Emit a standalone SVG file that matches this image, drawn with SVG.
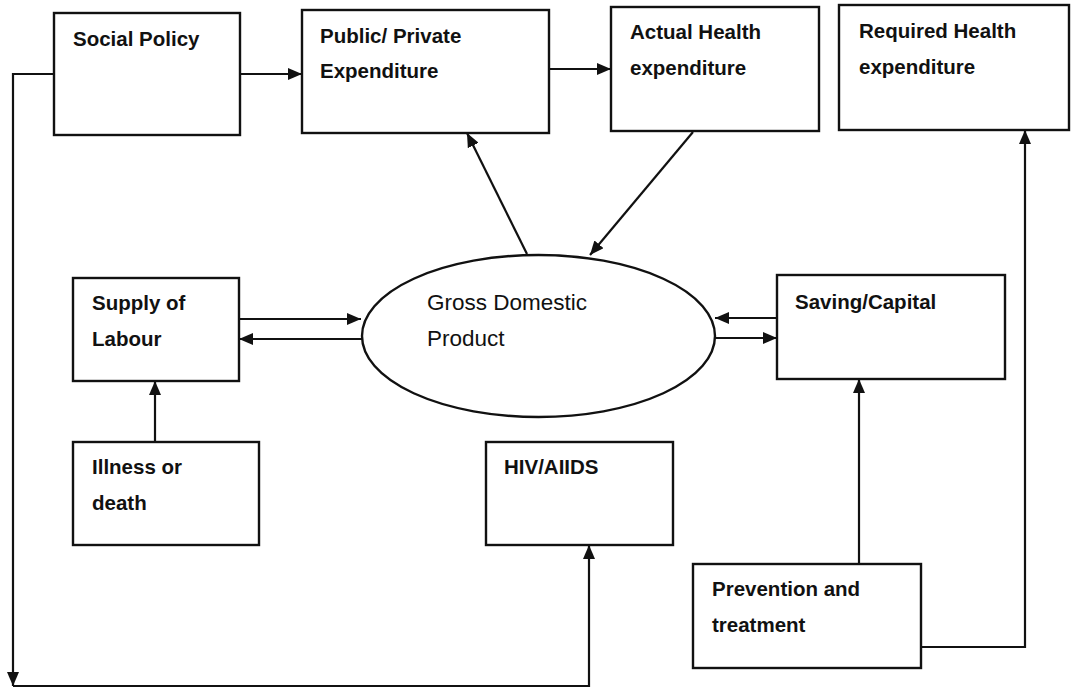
<svg xmlns="http://www.w3.org/2000/svg" width="1072" height="688" viewBox="0 0 1072 688">
<style>
.box{fill:#fff;stroke:#111;stroke-width:2.4}
.lbl{font-family:"Liberation Sans",Arial,sans-serif;font-size:20.5px;font-weight:bold;fill:#111}
.lblr{font-family:"Liberation Sans",Arial,sans-serif;font-size:22.5px;fill:#111}
.con{fill:none;stroke:#111;stroke-width:2.2}
</style>
<defs>
<marker id="ah" viewBox="0 0 14 12" refX="14" refY="6" markerWidth="14" markerHeight="12" markerUnits="userSpaceOnUse" orient="auto">
<path d="M0,0 L14,6 L0,12 Z" fill="#111"/>
</marker>
</defs>
<rect width="1072" height="688" fill="#fff"/>
<g id="connectors">
<path class="con" d="M240,74 L302,74" marker-end="url(#ah)"/>
<path class="con" d="M549,69 L611,69" marker-end="url(#ah)"/>
<path class="con" d="M527,254 L467,133" marker-end="url(#ah)"/>
<path class="con" d="M693,132 L590,255" marker-end="url(#ah)"/>
<path class="con" d="M239,319 L361,319" marker-end="url(#ah)"/>
<path class="con" d="M363,339 L239,339" marker-end="url(#ah)"/>
<path class="con" d="M777,318 L715,318" marker-end="url(#ah)"/>
<path class="con" d="M714,338 L777,338" marker-end="url(#ah)"/>
<path class="con" d="M155,442 L155,381" marker-end="url(#ah)"/>
<path class="con" d="M859,564 L859,379" marker-end="url(#ah)"/>
<path class="con" d="M921,647 L1025,647 L1025,130" marker-end="url(#ah)"/>
<path class="con" d="M54,74 L13,74 L13,686" marker-end="url(#ah)"/>
<path class="con" d="M13,686 L589,686 L589,545" marker-end="url(#ah)"/>
</g>
<g id="social-policy">
<rect class="box" x="54" y="13" width="186" height="122"/>
<text class="lbl" x="73" y="46">Social Policy</text>
</g>
<g id="public-private">
<rect class="box" x="302" y="10" width="247" height="123"/>
<text class="lbl" x="320" y="43">Public/ Private</text>
<text class="lbl" x="320" y="78">Expenditure</text>
</g>
<g id="actual-health">
<rect class="box" x="611" y="7" width="208" height="124"/>
<text class="lbl" x="630" y="39">Actual Health</text>
<text class="lbl" x="630" y="75">expenditure</text>
</g>
<g id="required-health">
<rect class="box" x="839" y="5" width="230" height="125"/>
<text class="lbl" x="859" y="38">Required Health</text>
<text class="lbl" x="859" y="74">expenditure</text>
</g>
<g id="gdp">
<ellipse class="box" cx="538.5" cy="336" rx="176.5" ry="81"/>
<text class="lblr" x="427" y="310">Gross Domestic</text>
<text class="lblr" x="427" y="346">Product</text>
</g>
<g id="supply-labour">
<rect class="box" x="73" y="278" width="166" height="103"/>
<text class="lbl" x="92" y="310">Supply of</text>
<text class="lbl" x="92" y="346">Labour</text>
</g>
<g id="saving-capital">
<rect class="box" x="777" y="275" width="228" height="104"/>
<text class="lbl" x="795" y="309">Saving/Capital</text>
</g>
<g id="illness-death">
<rect class="box" x="73" y="442" width="186" height="103"/>
<text class="lbl" x="92" y="474">Illness or</text>
<text class="lbl" x="92" y="510">death</text>
</g>
<g id="hiv-aids">
<rect class="box" x="486" y="442" width="187" height="103"/>
<text class="lbl" x="504" y="474">HIV/AIIDS</text>
</g>
<g id="prevention">
<rect class="box" x="693" y="564" width="228" height="104"/>
<text class="lbl" x="712" y="596">Prevention and</text>
<text class="lbl" x="712" y="632">treatment</text>
</g>
</svg>
